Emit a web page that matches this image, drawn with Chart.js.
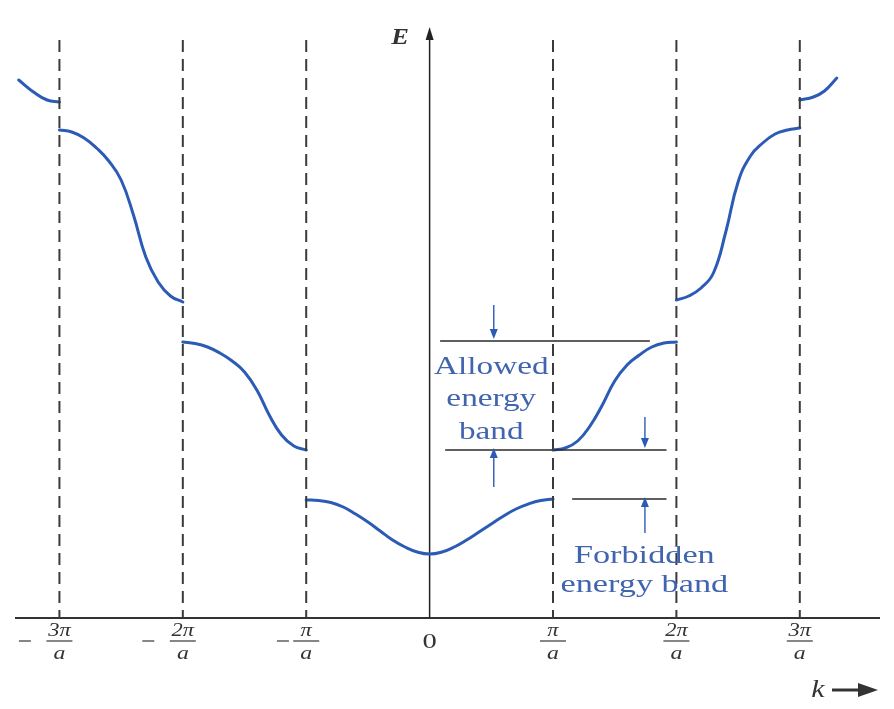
<!DOCTYPE html>
<html><head><meta charset="utf-8">
<script src="https://cdn.jsdelivr.net/npm/chart.js@4.4.1/dist/chart.umd.min.js"></script>
<style>html,body{margin:0;padding:0;background:#fff}#wrap{width:894px;height:709px;position:relative}</style>
</head><body><div id="wrap"><canvas id="c" width="894" height="709"></canvas></div>
<script>
// k in units of pi/a, E in arbitrary units
const kTicks = [-3, -2, -1, 0, 1, 2, 3];
const tickSigns = ['−', '−', '−', '', '', '', ''];
const tickNumerators = ['3π', '2π', 'π', '0', 'π', '2π', '3π'];
const tickDenominators = ['a', 'a', 'a', '', 'a', 'a', 'a'];

const band4Left = [{x:-3.33,y:5.38},{x:-3.21,y:5.26},{x:-3.10,y:5.18},{x:-3.0,y:5.16}];
const band3Left = [{x:-3,y:4.88},{x:-2.9,y:4.86},{x:-2.8,y:4.80},{x:-2.7,y:4.70},{x:-2.6,y:4.57},{x:-2.5,y:4.38},{x:-2.4,y:4.03},{x:-2.3,y:3.61},{x:-2.2,y:3.36},{x:-2.1,y:3.22},{x:-2,y:3.16}];
const band2Left = [{x:-2,y:2.76},{x:-1.9,y:2.745},{x:-1.8,y:2.71},{x:-1.7,y:2.65},{x:-1.6,y:2.57},{x:-1.5,y:2.46},{x:-1.4,y:2.28},{x:-1.3,y:2.03},{x:-1.2,y:1.83},{x:-1.1,y:1.72},{x:-1,y:1.68}];
const band1 = [{x:-1,y:1.18},{x:-0.9,y:1.175},{x:-0.8,y:1.155},{x:-0.7,y:1.11},{x:-0.6,y:1.04},{x:-0.5,y:0.96},{x:-0.4,y:0.87},{x:-0.3,y:0.78},{x:-0.2,y:0.71},{x:-0.1,y:0.66},{x:0,y:0.64},{x:0.1,y:0.66},{x:0.2,y:0.71},{x:0.3,y:0.78},{x:0.4,y:0.86},{x:0.5,y:0.94},{x:0.6,y:1.02},{x:0.7,y:1.09},{x:0.8,y:1.14},{x:0.9,y:1.175},{x:1,y:1.19}];
const band2Right = [{x:1,y:1.68},{x:1.1,y:1.70},{x:1.2,y:1.77},{x:1.3,y:1.92},{x:1.4,y:2.13},{x:1.5,y:2.37},{x:1.6,y:2.53},{x:1.7,y:2.63},{x:1.8,y:2.71},{x:1.9,y:2.75},{x:2,y:2.76}];
const band3Right = [{x:2,y:3.18},{x:2.1,y:3.22},{x:2.2,y:3.30},{x:2.3,y:3.45},{x:2.4,y:3.86},{x:2.5,y:4.36},{x:2.6,y:4.62},{x:2.7,y:4.75},{x:2.8,y:4.84},{x:2.9,y:4.88},{x:3,y:4.90}];
const band4Right = [{x:3,y:5.18},{x:3.11,y:5.21},{x:3.2,y:5.27},{x:3.30,y:5.40}];

// energy levels marked with horizontal lines
const levelAllowedTop = 2.77;
const levelAllowedBottom = 1.68;
const levelForbiddenBottom = 1.19;

// annotation layout (data-space anchors)
const layout = {
  zoneTop: 5.78,
  axisTop: 5.91,
  lines: [
    {y: levelAllowedTop, from: 0.085, to: 1.785},
    {y: levelAllowedBottom, from: 0.126, to: 1.92},
    {y: levelForbiddenBottom, from: 1.155, to: 1.92}
  ],
  arrows: [
    {x: 0.52, from: 3.13, to: levelAllowedTop + 0.02},
    {x: 0.52, from: 1.31, to: levelAllowedBottom + 0.02},
    {x: 1.745, from: 2.01, to: levelAllowedBottom + 0.02},
    {x: 1.745, from: 0.85, to: levelForbiddenBottom + 0.02}
  ],
  allowedText: {x: 0.50, lines: [['Allowed', 2.44], ['energy', 2.12], ['band', 1.79]]},
  forbiddenText: {x: 1.74, lines: [['Forbidden', 0.55], ['energy band', 0.26]]},
  eLabel: {x: -0.24, y: 5.74}
};

const BLUE = '#2b5bb5';
const TEXTBLUE = '#4164ae';
const SERIF = '"Liberation Serif", "DejaVu Serif", serif';

function bandDs(data) {
  return {data, showLine: true, borderColor: BLUE, borderWidth: 3, pointRadius: 0,
    tension: 0.45, fill: false, borderCapStyle: 'round', borderJoinStyle: 'round'};
}
function vline(k) {
  return {data: [{x: k, y: layout.zoneTop}, {x: k, y: 0}], showLine: true, borderColor: '#3a3a3a',
    borderWidth: 2, borderDash: [12, 7], pointRadius: 0, fill: false};
}
function hline(l) {
  return {data: [{x: l.from, y: l.y}, {x: l.to, y: l.y}], showLine: true, borderColor: '#2a2a2a',
    borderWidth: 1.5, pointRadius: 0, fill: false};
}

const datasets = [];
kTicks.filter(k => k !== 0).forEach(k => datasets.push(vline(k)));
layout.lines.forEach(l => datasets.push(hline(l)));
[band4Left, band3Left, band2Left, band1, band2Right, band3Right, band4Right].forEach(b => datasets.push(bandDs(b)));

function stretchedText(ctx, text, x, y, font, color, sx) {
  ctx.save();
  ctx.font = font;
  ctx.fillStyle = color;
  ctx.textAlign = 'center';
  ctx.textBaseline = 'alphabetic';
  ctx.translate(x, y);
  ctx.scale(sx, 1);
  ctx.fillText(text, 0, 0);
  const w = ctx.measureText(text).width * sx;
  ctx.restore();
  return w;
}

const decor = {
  id: 'decor',
  beforeDatasetsDraw(chart) {
    const ctx = chart.ctx, xs = chart.scales.x, ys = chart.scales.y;
    const y0 = ys.getPixelForValue(0), x0 = xs.getPixelForValue(0);
    ctx.save();
    ctx.strokeStyle = '#333'; ctx.lineWidth = 2;
    ctx.beginPath(); ctx.moveTo(xs.left, y0); ctx.lineTo(xs.right, y0); ctx.stroke();
    const yt = ys.getPixelForValue(layout.axisTop);
    ctx.strokeStyle = '#222'; ctx.lineWidth = 1.5;
    ctx.beginPath(); ctx.moveTo(x0, y0); ctx.lineTo(x0, yt + 10); ctx.stroke();
    ctx.fillStyle = '#222';
    ctx.beginPath(); ctx.moveTo(x0, yt); ctx.lineTo(x0 - 4, yt + 13); ctx.lineTo(x0 + 4, yt + 13); ctx.closePath(); ctx.fill();
    ctx.restore();
  },
  afterDatasetsDraw(chart) {
    const ctx = chart.ctx, xs = chart.scales.x, ys = chart.scales.y;
    const y0 = ys.getPixelForValue(0);
    kTicks.forEach((k, i) => {
      const cx = xs.getPixelForValue(k);
      if (tickDenominators[i] === '') {
        stretchedText(ctx, tickNumerators[i], cx, y0 + 30, '22px ' + SERIF, '#333', 1.3);
        return;
      }
      const w = stretchedText(ctx, tickNumerators[i], cx, y0 + 18, 'italic 18px ' + SERIF, '#333', 1.25);
      ctx.save(); ctx.strokeStyle = '#444'; ctx.lineWidth = 1.3;
      ctx.beginPath(); ctx.moveTo(cx - 13, y0 + 23); ctx.lineTo(cx + 13, y0 + 23); ctx.stroke(); ctx.restore();
      stretchedText(ctx, tickDenominators[i], cx, y0 + 41, 'italic 19px ' + SERIF, '#333', 1.25);
      if (tickSigns[i]) {
        const off = w + 12;
        ctx.save(); ctx.strokeStyle = '#444'; ctx.lineWidth = 1.3;
        ctx.beginPath(); ctx.moveTo(cx - off - 6, y0 + 23); ctx.lineTo(cx - off + 6, y0 + 23); ctx.stroke(); ctx.restore();
      }
    });
    const kx = xs.right - 62, ky = y0 + 79;
    stretchedText(ctx, 'k', kx, ky, 'italic 25px ' + SERIF, '#333', 1.2);
    ctx.save();
    ctx.strokeStyle = '#333'; ctx.fillStyle = '#333'; ctx.lineWidth = 3;
    ctx.beginPath(); ctx.moveTo(kx + 14, ky - 7); ctx.lineTo(kx + 44, ky - 7); ctx.stroke();
    ctx.beginPath(); ctx.moveTo(kx + 60, ky - 7); ctx.lineTo(kx + 40, ky - 14); ctx.lineTo(kx + 40, ky); ctx.closePath(); ctx.fill();
    ctx.restore();
    stretchedText(ctx, 'E', xs.getPixelForValue(layout.eLabel.x), ys.getPixelForValue(layout.eLabel.y), 'bold italic 23px ' + SERIF, '#333', 1.15);
    ctx.save();
    ctx.strokeStyle = BLUE; ctx.fillStyle = BLUE; ctx.lineWidth = 1.4;
    layout.arrows.forEach(a => {
      const px = xs.getPixelForValue(a.x), p1 = ys.getPixelForValue(a.from), p2 = ys.getPixelForValue(a.to);
      const dir = p2 > p1 ? 1 : -1;
      ctx.beginPath(); ctx.moveTo(px, p1); ctx.lineTo(px, p2 - dir * 8); ctx.stroke();
      ctx.beginPath(); ctx.moveTo(px, p2); ctx.lineTo(px - 4, p2 - dir * 10); ctx.lineTo(px + 4, p2 - dir * 10); ctx.closePath(); ctx.fill();
    });
    ctx.restore();
    const ax = xs.getPixelForValue(layout.allowedText.x);
    layout.allowedText.lines.forEach(([t, e]) => stretchedText(ctx, t, ax, ys.getPixelForValue(e), '25px ' + SERIF, TEXTBLUE, 1.33));
    const fx = xs.getPixelForValue(layout.forbiddenText.x);
    layout.forbiddenText.lines.forEach(([t, e]) => stretchedText(ctx, t, fx, ys.getPixelForValue(e), '25px ' + SERIF, TEXTBLUE, 1.37));
  }
};

new Chart(document.getElementById('c'), {
  type: 'scatter',
  data: {datasets},
  options: {
    responsive: false,
    animation: false,
    events: [],
    layout: {padding: {left: 15, right: 14, top: 18, bottom: 91}},
    plugins: {legend: {display: false}, tooltip: {enabled: false}},
    scales: {
      x: {type: 'linear', min: -3.36, max: 3.65, display: false},
      y: {type: 'linear', min: 0, max: 6, display: false}
    }
  },
  plugins: [decor]
});
</script></body></html>
